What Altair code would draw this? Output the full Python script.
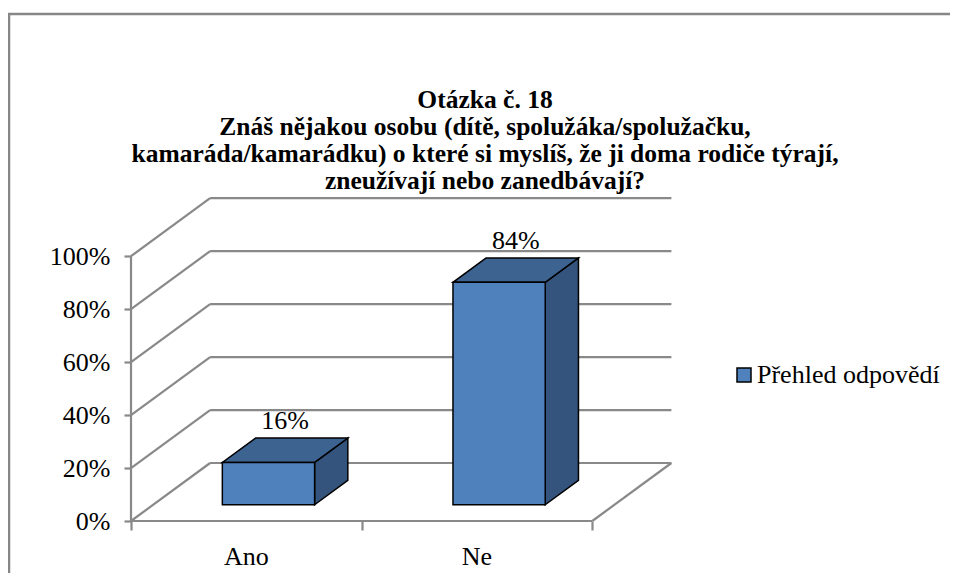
import altair as alt
import pandas as pd

# ---- data ----
categories = ["Ano", "Ne"]
values = [16, 84]                      # percent
y_ticks = [0, 20, 40, 60, 80, 100]
series_name = "Přehled odpovědí"
title_lines = [
    "Otázka č. 18",
    "Znáš nějakou osobu (dítě, spolužáka/spolužačku,",
    "kamaráda/kamarádku) o které si myslíš, že ji doma rodiče týrají,",
    "zneužívají nebo zanedbávají?",
]

# ---- 3D projection parameters (in data units) ----
DX = 0.343     # depth shift along x (category units)
DY = 21.9      # depth shift along y (percent units)
F0, F1 = 0.28, 0.70   # bar depth range (fraction of wall depth)
HALF = 0.2     # half bar width (category units)
NCAT = len(categories)

GRID = "#898989"
FRONT = "#4F81BD"
TOP = "#3D6391"
SIDE = "#34547D"
FONT = "Times New Roman, Liberation Serif, serif"

xs = alt.Scale(domain=[0, 2.35], nice=False, zero=False)
ys = alt.Scale(domain=[0, 125], nice=False, zero=False)

x_axis = alt.Axis(values=list(range(NCAT + 1)), labels=False, domain=False, grid=False,
                  tickSize=9, tickColor=GRID, tickWidth=2.2, title=None)
y_axis = alt.Axis(values=y_ticks, labelExpr="datum.value + '%'", domain=False, grid=False,
                  tickSize=7, tickColor=GRID, tickWidth=2.2, title=None,
                  labelFont=FONT, labelFontSize=26, labelColor="black", labelPadding=14)


def X(f, **kw):
    return alt.X(f, type="quantitative", scale=xs, axis=x_axis, **kw)


def Y(f, **kw):
    return alt.Y(f, type="quantitative", scale=ys, axis=y_axis, **kw)


# ---- wall / floor lines ----
rows = []
for v in y_ticks:
    rows.append({"x": DX, "x2": NCAT + DX, "y": v + DY, "y2": v + DY})   # back wall grid
    rows.append({"x": 0, "x2": DX, "y": v, "y2": v + DY})                 # side wall diagonal
rows.append({"x": 0, "x2": 0, "y": 0, "y2": y_ticks[-1]})                  # front axis line
rows.append({"x": 0, "x2": NCAT, "y": 0, "y2": 0})                         # floor front edge
rows.append({"x": NCAT, "x2": NCAT + DX, "y": 0, "y2": DY})                # floor right edge
lines = pd.DataFrame(rows)

# ---- bar faces ----
front_rows, top_rows, side_rows, lab_rows = [], [], [], []
for i, (cat, v) in enumerate(zip(categories, values)):
    c = i + 0.5
    front_rows.append({"cat": cat, "series": series_name,
                       "x": c - HALF + F0 * DX, "x2": c + HALF + F0 * DX,
                       "y": F0 * DY, "y2": v + F0 * DY})
    for f in (F0, F1):
        top_rows.append({"cat": cat, "y": v + f * DY,
                         "x": c - HALF + f * DX, "x2": c + HALF + f * DX})
        side_rows.append({"cat": cat, "x": c + HALF + f * DX,
                          "y": f * DY, "y2": v + f * DY})
    lab_rows.append({"cat": cat, "label": f"{v}%",
                     "x": c + (F0 + F1) / 2 * DX, "y": v + F1 * DY, "c": c, "zero": 0})
front = pd.DataFrame(front_rows)
top = pd.DataFrame(top_rows)
side = pd.DataFrame(side_rows)
labs = pd.DataFrame(lab_rows)

border = alt.Chart(pd.DataFrame({"a": [0]})).mark_rect(
    fillOpacity=0, stroke="#878787", strokeWidth=2.5
).encode(x=alt.value(-122), y=alt.value(-176), x2=alt.value(900), y2=alt.value(500))

rules = alt.Chart(lines).mark_rule(color=GRID, strokeWidth=2.2).encode(
    x=X("x"), x2="x2", y=Y("y"), y2="y2"
)

side_l = alt.Chart(side).mark_area(
    orient="vertical", color=SIDE, stroke="black", strokeWidth=1.5, opacity=1
).encode(x=X("x"), y=Y("y"), y2="y2", detail="cat:N")

top_l = alt.Chart(top).mark_area(
    orient="horizontal", color=TOP, stroke="black", strokeWidth=1.5, opacity=1
).encode(y=Y("y"), x=X("x"), x2="x2", detail="cat:N")

front_l = alt.Chart(front).mark_rect(stroke="black", strokeWidth=1.5, opacity=1).encode(
    x=X("x"), x2="x2", y=Y("y"), y2="y2",
    color=alt.Color("series:N", scale=alt.Scale(range=[FRONT]), legend=alt.Legend(
        title=None, orient="none", legendX=600, legendY=172, padding=0,
        symbolType="square", symbolSize=196, symbolStrokeColor="black",
        symbolStrokeWidth=1.5, symbolOpacity=1, labelOffset=0,
        labelFont=FONT, labelFontSize=26, labelColor="black", labelLimit=400)),
)

val_text = alt.Chart(labs).mark_text(
    font=FONT, fontSize=26, color="black", baseline="alphabetic", dy=-9
).encode(x=X("x"), y=Y("y"), text="label:N")

cat_text = alt.Chart(labs).mark_text(
    font=FONT, fontSize=26, color="black", baseline="alphabetic", dy=44
).encode(x=X("c"), y=Y("zero"), text="cat:N")

chart = alt.layer(
    rules, border, side_l, top_l, front_l, val_text, cat_text
).properties(
    width=542, height=331,
    background="white",
    autosize=alt.AutoSizeParams(type="none"),
    padding={"left": 123, "top": 182, "right": 277, "bottom": 52},
    title=alt.TitleParams(
        text=title_lines, font=FONT, fontSize=25.5, fontWeight="bold",
        lineHeight=27, color="black", anchor="middle", frame="group",
        dx=83, offset=-182),
).configure_view(stroke=None)

chart.save("out.html", embed_options={"renderer": "svg", "actions": False})
